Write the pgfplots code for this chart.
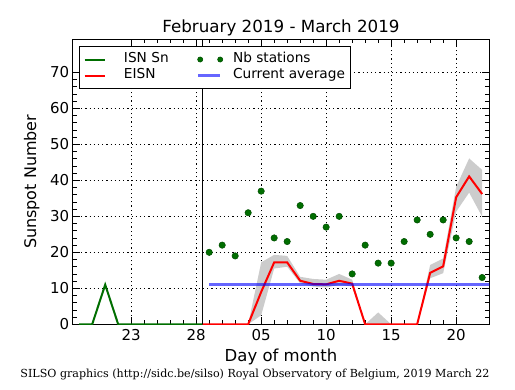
\documentclass[border=0pt]{standalone}
\usepackage{fontspec}
\setmainfont{DejaVu Sans}
\newfontfamily\footfont{DejaVu Serif}
\usepackage{pgfplots}
\pgfplotsset{compat=1.18}
\usepgfplotslibrary{fillbetween}
\definecolor{isngreen}{RGB}{0,110,0}
\definecolor{bandgray}{RGB}{204,204,204}
\begin{document}
\begin{tikzpicture}
\begin{axis}[
  at={(0,0)}, anchor=south west,
  scale only axis, width=416.6bp, height=285bp,
  xmin=18.5, xmax=50.55, ymin=0, ymax=79.2,
  xtick={23,28,33,38,43,48},
  xticklabels={23,28,05,10,15,20},
  ytick={0,10,20,30,40,50,60,70},
  minor x tick num=4, minor y tick num=4,
  tick align=inside,
  major tick length=7bp, minor tick length=4bp,
  every tick/.style={black, line width=0.8bp},
  axis line style={line width=1bp},
  grid=major,
  major grid style={black, line width=0.6bp, dash pattern=on 1.2bp off 3bp},
  /pgf/number format/assume math mode=true,
  ticklabel style={font=\fontsize{15bp}{18bp}\selectfont},
  xticklabel style={yshift=-1.5bp},
  title={February 2019 - March 2019},
  title style={at={(axis description cs:0.5,1.019)}, anchor=center, font=\fontsize{16.7bp}{19bp}\selectfont},
  xlabel={Day of month},
  ylabel={Sunspot Number},
  every axis x label/.style={at={(axis description cs:0.5,-0.1147)}, anchor=center, font=\fontsize{16.5bp}{19bp}\selectfont},
  every axis y label/.style={at={(axis description cs:-0.0984,0.5)}, anchor=center, rotate=90, font=\fontsize{16bp}{19bp}\selectfont},
  legend columns=2,
  legend cell align=left,
  legend style={
    at={(0,1)}, anchor=north west, xshift=6.3bp, yshift=-6.7bp,
    draw=black, line width=1bp, fill=white,
    font=\fontsize{13.7bp}{16bp}\selectfont,
    inner xsep=4bp, inner ysep=5bp,
    row sep=0bp,
    nodes={inner ysep=1.35bp, text height=10bp, text depth=3.3bp},
    /tikz/every even column/.append style={column sep=26bp},
    /tikz/every odd column/.append style={column sep=8bp},
  },
]
% error band of EISN
\addplot[name path=upper, draw=none, forget plot] coordinates {
 (29,0) (30,0) (31,0) (32,0) (33,17.2) (34,19.3) (35,19) (36,13.2) (37,12.6)
 (38,12.4) (39,14) (40,12.4) (41,0) (42,3.3) (43,0) (44,0) (45,0)
 (46,16.5) (47,18.3) (48,38.2) (49,46.1) (50,42.9)};
\addplot[name path=lower, draw=none, forget plot] coordinates {
 (29,0) (30,0) (31,0) (32,0) (33,2.5) (34,15.5) (35,16) (36,11.4) (37,10.5)
 (38,10.2) (39,11) (40,10.5) (41,0) (42,0) (43,0) (44,0) (45,0)
 (46,12.8) (47,14.2) (48,31.3) (49,36.6) (50,29.9)};
\addplot[bandgray, draw=none, forget plot] fill between[of=upper and lower];
% ISN Sn (February)
\addplot[isngreen, line width=2bp, forget plot] coordinates {
 (19,0) (20,0) (21,11) (22,0) (23,0) (24,0) (25,0) (26,0) (27,0) (28,0) (28.5,0)};
% EISN (March)
\addplot[red, line width=2bp, forget plot] coordinates {
 (28.5,0) (29,0) (30,0) (31,0) (32,0) (33,9) (34,17.2) (35,17.2) (36,12.1)
 (37,11.2) (38,11.1) (39,12.1) (40,11.3) (41,0) (42,0) (43,0) (44,0) (45,0)
 (46,14.3) (47,16.1) (48,35.3) (49,41.1) (50,36.2)};
% Nb stations
\addplot[only marks, mark=*, mark size=3.2bp, mark options={fill=isngreen, draw=isngreen!70!black, line width=0.5bp}, forget plot] coordinates {
 (29,20) (30,22) (31,19) (32,31) (33,37) (34,24) (35,23) (36,33) (37,30)
 (38,27) (39,30) (40,14) (41,22) (42,17) (43,17) (44,23) (45,29) (46,25)
 (47,29) (48,24) (49,23) (50,13)};
% Current average
\addplot[blue, opacity=0.6, line width=3bp, forget plot] coordinates {(29,11.0) (51,11.0)};
% month boundary
\addplot[black, line width=1.2bp, forget plot] coordinates {(28.5,0) (28.5,79.2)};
% legend
\addlegendimage{legend image code/.code={\draw[isngreen, line width=2bp] (0bp,0bp) -- (20bp,0bp); \path (29bp,0bp);}}
\addlegendentry{ISN Sn}
\addlegendimage{legend image code/.code={\fill[isngreen, draw=isngreen!70!black, line width=0.5bp] (2bp,0bp) circle (2.6bp) (22bp,0bp) circle (2.6bp);}}
\addlegendentry{Nb stations}
\addlegendimage{legend image code/.code={\draw[red, line width=2bp] (0bp,0bp) -- (20bp,0bp); \path (29bp,0bp);}}
\addlegendentry{EISN}
\addlegendimage{legend image code/.code={\draw[blue, opacity=0.6, line width=3bp] (0bp,0bp) -- (22bp,0bp);}}
\addlegendentry{Current average}
\end{axis}
\node[font={\footfont\fontsize{11.1bp}{13bp}\selectfont}, anchor=center] at (182.3bp,-50.7bp)
  {SILSO graphics (http://sidc.be/silso) Royal Observatory of Belgium, 2019 March 22};
\pgfresetboundingbox
\path[use as bounding box] (-72.7bp,-65.7bp) rectangle (442.3bp,324.3bp);
\end{tikzpicture}
\end{document}
